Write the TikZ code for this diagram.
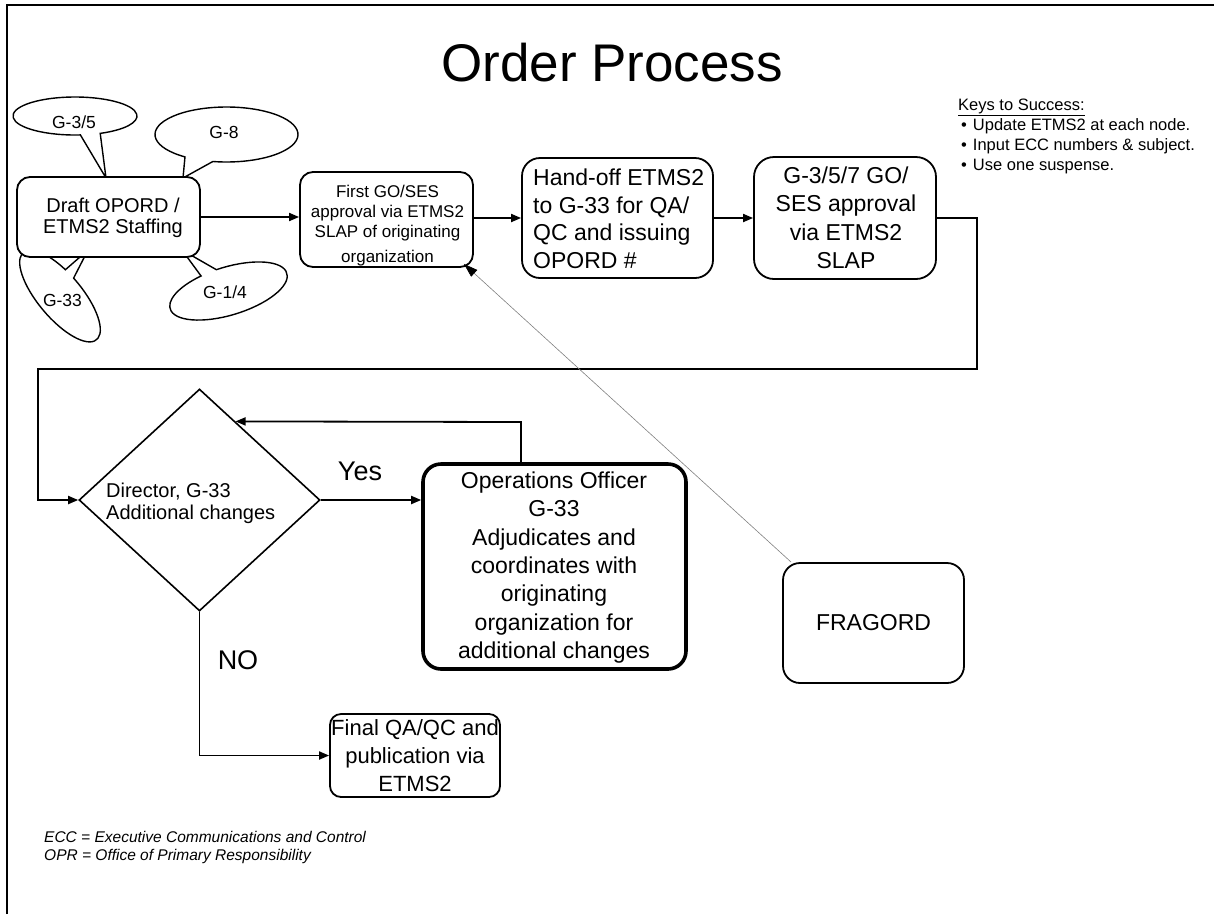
\documentclass[tikz,border=0pt]{standalone}
\usepackage{fontspec}
\setmainfont{Liberation Sans}
\usetikzlibrary{arrows.meta,shapes.geometric,calc}

\newcommand{\fsz}[2]{\fontsize{#1}{#2}\selectfont}

\begin{document}
\begin{tikzpicture}[x=1pt,y=-1pt,
  box/.style={draw, line width=1.8pt, rounded corners=#1, inner sep=0pt, fill=white},
  box/.default=12pt,
  conn/.style={line width=1.8pt, -{Triangle[length=10pt,width=8pt]}},
  bubble/.style={draw, line width=1.4pt, fill=white},
  lbl/.style={inner sep=0pt, align=center},
  note/.style={line width=0.6pt, gray, -{Triangle[length=14pt,width=9pt,black]}}]
\useasboundingbox (0,0) rectangle (1214,914);

% page frame (top and left edges)
\draw[line width=2.2pt] (7,914) -- (7,5) -- (1214,5);

% title and keys
\node[lbl, anchor=base, font=\fsz{53}{60}] (title) at (612,81.7) {Order Process};
\node[lbl, anchor=base west, font=\fsz{16.5}{20}] (keyhead) at (958,110) {\underline{Keys to Success:}};
\node[lbl, anchor=north west, align=left, font=\fsz{16.5}{20}] (keylist) at (961,118.1)
  {•\hspace{6pt}Update ETMS2 at each node.\\ •\hspace{6pt}Input ECC numbers \& subject.\\ •\hspace{6pt}Use one suspense.};

% staff callouts around the drafting step
\coordinate (tipA) at (106,178);
\coordinate (tipB) at (183,178);
\coordinate (tipC) at (88,250);
\coordinate (tipD) at (182,250);
\begin{scope}[shift={(75,116)}]
  \draw[bubble] (85:62 and 19) arc[start angle=85, end angle=426, x radius=62, y radius=19] -- (tipA) -- cycle;
\end{scope}
\begin{scope}[shift={(226.5,134.5)}]
  \draw[bubble] (125.5:71.5 and 27.5) arc[start angle=125.5, end angle=461, x radius=71.5, y radius=27.5] -- (tipB) -- cycle;
\end{scope}
\begin{scope}[shift={(60,296)}, rotate=-50]
  \draw[bubble] (265:57 and 22) arc[start angle=265, end angle=613, x radius=57, y radius=22] -- (tipC) -- cycle;
\end{scope}
\begin{scope}[shift={(228.5,291)}, rotate=17]
  \draw[bubble] (265:61 and 24) arc[start angle=265, end angle=609, x radius=61, y radius=24] -- (tipD) -- cycle;
\end{scope}
\node[lbl, anchor=base, font=\fsz{17.5}{20}] (g35) at (74,128.3) {G-3/5};
\node[lbl, anchor=base, font=\fsz{17.5}{20}] (g8) at (224,138.3) {G-8};
\node[lbl, anchor=base, font=\fsz{17.5}{20}] (g33) at (62.5,306.7) {G-33};
\node[lbl, anchor=base, font=\fsz{17.5}{20}] (g14) at (225,298.3) {G-1/4};

% process steps
\node[box=13pt, minimum width=183pt, minimum height=80pt] (draft) at (108.5,217) {};
\node[lbl, anchor=north, font=\fsz{20}{21}] (draftT) at (113,197.3) {Draft OPORD /\\ETMS2 Staffing};

\node[box=13pt, minimum width=173pt, minimum height=95pt] (first) at (386.5,219.5) {};
\node[lbl, anchor=north, font=\fsz{17}{20}] (firstT) at (387.5,184.8)
  {First GO/SES\\approval via ETMS2\\SLAP of originating\\[4.7pt]organization};

\node[box=18pt, minimum width=191pt, minimum height=120pt] (hand) at (617.5,218) {};
\node[lbl, anchor=north west, align=left, font=\fsz{23}{27.8}] (handT) at (533,168.4)
  {Hand-off ETMS2\\to G-33 for QA/\\QC and issuing\\OPORD \#};

\node[box=20pt, minimum width=182pt, minimum height=122pt] (appr) at (845,218) {};
\node[lbl, anchor=north, font=\fsz{23}{28.3}] (apprT) at (846,166.7)
  {G-3/5/7 GO/\\SES approval\\via ETMS2\\SLAP};

\node[draw, diamond, line width=1.6pt, minimum width=241pt, minimum height=222pt, inner sep=0pt] (dir) at (199.5,500) {};
\node[lbl, anchor=north west, align=left, font=\fsz{20}{22.6}] (dirT) at (106,482.3)
  {Director, G-33\\Additional changes};

\node[box=18pt, line width=3.6pt, minimum width=263pt, minimum height=205pt] (ops) at (554.5,566.5) {};
\node[lbl, anchor=north, font=\fsz{23}{28.3}] (opsT) at (554,471.7)
  {Operations Officer\\G-33\\Adjudicates and\\coordinates with\\originating\\organization for\\additional changes};

\node[box=17pt, minimum width=181pt, minimum height=120pt, font=\fsz{23}{28}] (frag) at (873.5,623) {FRAGORD};

\node[box=11pt, minimum width=170pt, minimum height=83pt] (fin) at (415,755.5) {};
\node[lbl, anchor=north, font=\fsz{22}{28}] (finT) at (415,719)
  {Final QA/QC and\\publication via\\ETMS2};

\node[lbl, font=\fsz{27}{30}] (yes) at (360,471) {Yes};
\node[lbl, font=\fsz{27}{30}] (no) at (238,660) {NO};

\node[lbl, anchor=north west, align=left, font=\fsz{15.5}{18}\itshape] (abbr) at (44,831)
  {ECC = Executive Communications and Control\\OPR = Office of Primary Responsibility};

% flow
\draw[conn] (draft.east) -- (draft.east -| first.west);
\draw[conn] (first.east |- hand.west) -- (hand.west);
\draw[conn] (hand.east) -- (appr.west);
\coordinate (turnR) at (977,369);
\coordinate (turnL) at (38,500);
\draw[conn] (appr.east) -| (turnR) -| (turnL) -- (dir.west);
\draw[conn] (dir.east) -- (dir.east -| ops.west);
\coordinate (fbk) at (521,422);
\draw[conn] (ops.north -| fbk) -- (fbk) -- ($(dir.north)!0.297!(dir.east)$);
\draw[conn] (dir.south) |- (fin.west);
\draw[note] ($(frag.north west)+(9,0)$) -- ($(first.south east)+(-10,-4)$);
\end{tikzpicture}
\end{document}
